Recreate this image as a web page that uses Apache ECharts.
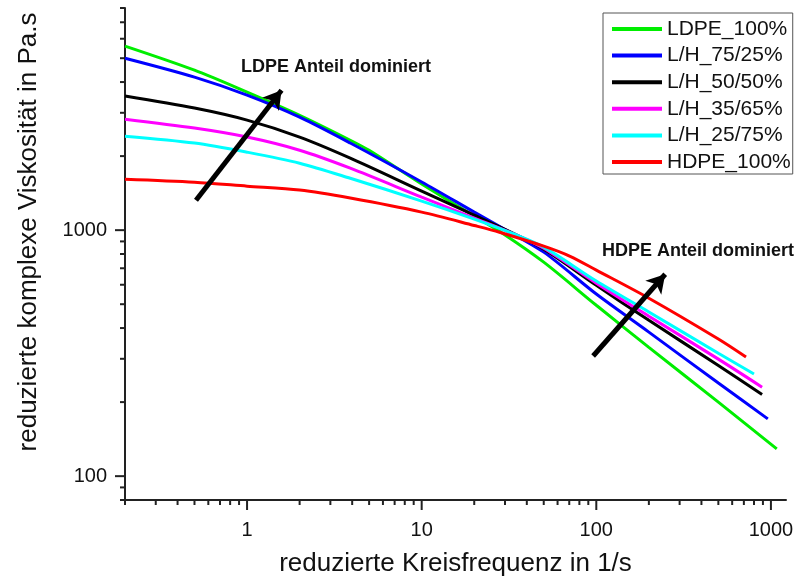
<!DOCTYPE html>
<html>
<head>
<meta charset="utf-8">
<script src="https://cdn.jsdelivr.net/npm/echarts@6/dist/echarts.min.js"></script>
<style>html,body{margin:0;padding:0;background:#fff}#c{width:801px;height:579px}</style>
</head>
<body>
<div id="c"></div>
<script>
// ---- data ----
const seriesNames = ['LDPE_100%', 'L/H_75/25%', 'L/H_50/50%', 'L/H_35/65%', 'L/H_25/75%', 'HDPE_100%'];

const ldpeFreq = [0.2, 0.5, 1, 2, 3.9, 5, 10, 20, 29, 50, 100, 200, 500, 1080];
const ldpeVisc = [5600, 4470, 3640, 2930, 2320, 2110, 1540, 1140, 972, 741, 495, 334, 200, 129];

const lh7525Freq = [0.2, 0.5, 1, 2, 3.9, 10, 20, 29, 50, 100, 200, 500, 960];
const lh7525Visc = [5000, 4190, 3540, 2880, 2260, 1570, 1184, 1019, 814, 550, 385, 239, 171];

const lh5050Freq = [0.2, 0.5, 1, 2, 3.9, 10, 20, 30.6, 50, 100, 200, 500, 890];
const lh5050Visc = [3510, 3135, 2800, 2390, 1963, 1442, 1151, 1000, 837, 597, 430, 282, 215];

const lh3565Freq = [0.2, 0.5, 1, 2, 3.9, 10, 20, 31.8, 50, 100, 200, 500, 890];
const lh3565Visc = [2825, 2600, 2390, 2113, 1786, 1362, 1119, 981, 845, 609, 447, 299, 230];

const lh2575Freq = [0.2, 0.5, 1, 2, 3.9, 10, 20, 34, 50, 100, 200, 500, 800];
const lh2575Visc = [2410, 2260, 2075, 1872, 1625, 1313, 1109, 963, 853, 621, 465, 316, 260];

const hdpeFreq = [0.2, 0.5, 1, 2, 3.9, 10, 20, 27.9, 50, 70.8, 100, 200, 500, 720];
const hdpeVisc = [1611, 1567, 1510, 1455, 1350, 1184, 1045, 981, 861, 783, 688, 529, 361, 305];

const xMajorTicks = [1, 10, 100, 1000];
const xMinorTicks = [0.2, 0.3, 0.4, 0.5, 0.6, 0.7, 0.8, 0.9, 2, 3, 4, 5, 6, 7, 8, 9,
  20, 30, 40, 50, 60, 70, 80, 90, 200, 300, 400, 500, 600, 700, 800, 900];
const yMajorTicks = [100, 1000];
const yMinorTicks = [80, 90, 200, 300, 400, 500, 600, 700, 800, 900,
  2000, 3000, 4000, 5000, 6000, 7000, 8000];

const X_MIN = 0.2, X_MAX = 1220, Y_MIN = 80, Y_MAX = 8000;

// annotation arrows (data coordinates: [freq, viscosity])
const arrowLDPE = [[0.51, 1324], [1.576, 3707]];
const arrowHDPE = [[95.9, 308], [248, 662]];

// ---- chart ----
const colors = ['#00ee00', '#0000ff', '#000000', '#ff00ff', '#00ffff', '#ff0000'];
const freqs = [ldpeFreq, lh7525Freq, lh5050Freq, lh3565Freq, lh2575Freq, hdpeFreq];
const viscs = [ldpeVisc, lh7525Visc, lh5050Visc, lh3565Visc, lh2575Visc, hdpeVisc];
const FONT = '"Liberation Sans", Arial, sans-serif';

function zip(a, b) { return a.map((v, i) => [v, b[i]]); }

function tickSeries(vals, axis, len) {
  return {
    type: 'custom', silent: true, clip: false, z: 5,
    data: vals.map(v => axis === 'x' ? [v, Y_MIN] : [X_MIN, v]),
    renderItem: function (params, api) {
      const p = api.coord([api.value(0), api.value(1)]);
      const shape = axis === 'x'
        ? { x1: p[0], y1: p[1], x2: p[0], y2: p[1] + len }
        : { x1: p[0], y1: p[1], x2: p[0] - len, y2: p[1] };
      return { type: 'line', shape: shape, style: { stroke: '#222', lineWidth: 2 } };
    }
  };
}

function isDecade(v, list) {
  return list.some(t => Math.abs(v - t) / t < 1e-6);
}

const lineSeries = seriesNames.map((name, i) => ({
  name: name,
  type: 'line',
  data: zip(freqs[i], viscs[i]),
  showSymbol: false,
  smooth: 0.3,
  lineStyle: { width: 3, color: colors[i] },
  itemStyle: { color: colors[i] },
  z: 3,
  animation: false
}));

lineSeries[5].markLine = {
  silent: true,
  animation: false,
  symbol: ['none', 'arrow'],
  symbolSize: [16, 18],
  label: { show: false },
  lineStyle: { color: '#000', width: 5, type: 'solid' },
  data: [
    [{ coord: arrowLDPE[0] }, { coord: arrowLDPE[1] }],
    [{ coord: arrowHDPE[0] }, { coord: arrowHDPE[1] }]
  ]
};

const chart = echarts.init(document.getElementById('c'));
chart.setOption({
  animation: false,
  backgroundColor: '#fff',
  textStyle: { fontFamily: FONT },
  grid: { left: 125, right: 15, top: 8, bottom: 79, containLabel: false, outerBoundsMode: 'none' },
  legend: {
    data: seriesNames,
    orient: 'vertical',
    left: 603, top: 13,
    padding: [5, 2, 1, 9],
    itemWidth: 50, itemHeight: 4,
    itemGap: 4.6,
    icon: 'rect',
    borderColor: '#555', borderWidth: 1,
    textStyle: { fontSize: 21, color: '#111', fontFamily: FONT, lineHeight: 22 }
  },
  xAxis: {
    type: 'log', logBase: 10, min: X_MIN, max: X_MAX,
    name: 'reduzierte Kreisfrequenz in 1/s',
    nameLocation: 'middle', nameGap: 49,
    nameTextStyle: { fontSize: 26, color: '#111', fontFamily: FONT, lineHeight: 30 },
    axisLine: { show: true, lineStyle: { color: '#222', width: 2 } },
    axisTick: { show: false },
    minorTick: { show: false },
    splitLine: { show: false },
    axisLabel: {
      fontSize: 20, color: '#111', margin: 20, fontFamily: FONT,
      formatter: v => isDecade(v, xMajorTicks) ? String(Math.round(v)) : ''
    }
  },
  yAxis: {
    type: 'log', logBase: 10, min: Y_MIN, max: Y_MAX,
    name: 'reduzierte komplexe Viskosität in Pa.s',
    nameLocation: 'middle', nameGap: 82, nameRotate: 90,
    nameTextStyle: { fontSize: 26, color: '#111', fontFamily: FONT, lineHeight: 28, padding: [0, 0, 0, 44] },
    axisLine: { show: true, lineStyle: { color: '#222', width: 2 } },
    axisTick: { show: false },
    minorTick: { show: false },
    splitLine: { show: false },
    axisLabel: {
      fontSize: 20, color: '#111', margin: 18, fontFamily: FONT,
      formatter: v => isDecade(v, yMajorTicks) ? String(Math.round(v)) : ''
    }
  },
  graphic: [
    { type: 'text', left: 241, top: 58, z: 10,
      style: { text: 'LDPE Anteil dominiert', font: 'bold 18px ' + FONT, fill: '#111' } },
    { type: 'text', left: 602, top: 242, z: 10,
      style: { text: 'HDPE Anteil dominiert', font: 'bold 18px ' + FONT, fill: '#111' } }
  ],
  series: lineSeries.concat([
    tickSeries(xMajorTicks, 'x', 10),
    tickSeries(xMinorTicks, 'x', 5),
    tickSeries(yMajorTicks, 'y', 10),
    tickSeries(yMinorTicks, 'y', 5)
  ])
});
</script>
</body>
</html>
